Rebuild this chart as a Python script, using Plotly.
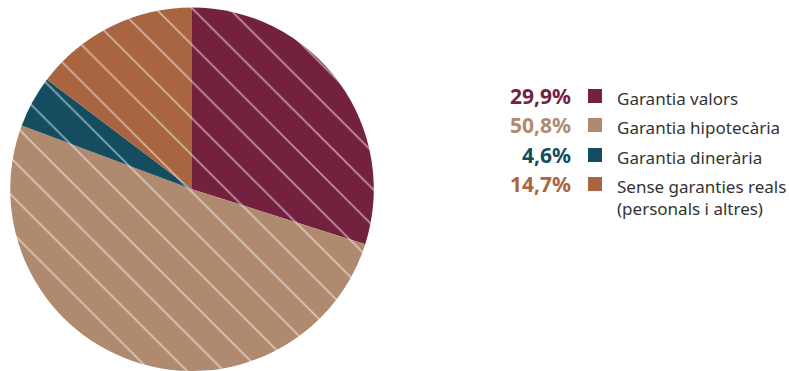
import plotly.graph_objects as go

labels = ["Garantia valors", "Garantia hipotecària", "Garantia dinerària",
          "Sense garanties reals<br>(personals i altres)"]
values = [29.9, 50.8, 4.6, 14.7]
pct_text = ["29,9%", "50,8%", "4,6%", "14,7%"]
colors = ["#74203F", "#B08A6F", "#144C60", "#A86540"]

fig = go.Figure()
fig.add_trace(go.Pie(
    labels=labels, values=values, sort=False, direction="clockwise", rotation=0,
    textinfo="none", hoverinfo="label+percent", showlegend=False,
    marker=dict(colors=colors, line=dict(width=0),
                pattern=dict(shape="\\", fgcolor="white", fillmode="overlay",
                             size=26, solidity=0.07)),
    domain=dict(x=[0.0127, 0.474], y=[0.0, 0.98]),
))

row_y = [96, 125, 155, 184]
H = 371
for i in range(len(labels)):
    yp = 1 - row_y[i] / H
    fig.add_annotation(x=573 / 789, y=yp, xref="paper", yref="paper",
                       text="<b>" + pct_text[i] + "</b>", showarrow=False,
                       xanchor="right", yanchor="middle",
                       font=dict(family="Noto Sans", size=21, color=colors[i]))
    fig.add_shape(type="rect", xref="paper", yref="paper",
                  x0=588 / 789, x1=602 / 789,
                  y0=1 - (row_y[i] + 7) / H, y1=1 - (row_y[i] - 7) / H,
                  fillcolor=colors[i], line=dict(width=0))
    fig.add_annotation(x=615 / 789, y=1 - (row_y[i] - 11) / H, xref="paper", yref="paper",
                       text=labels[i], showarrow=False, align="left",
                       xanchor="left", yanchor="top",
                       font=dict(family="Noto Sans", size=17, color="#333333"))

fig.update_layout(width=789, height=371, margin=dict(l=0, r=0, t=0, b=0),
                  paper_bgcolor="white", plot_bgcolor="white")
fig.write_html("out.html", config={"displayModeBar": False},
               post_script="document.body.style.margin='0';")
